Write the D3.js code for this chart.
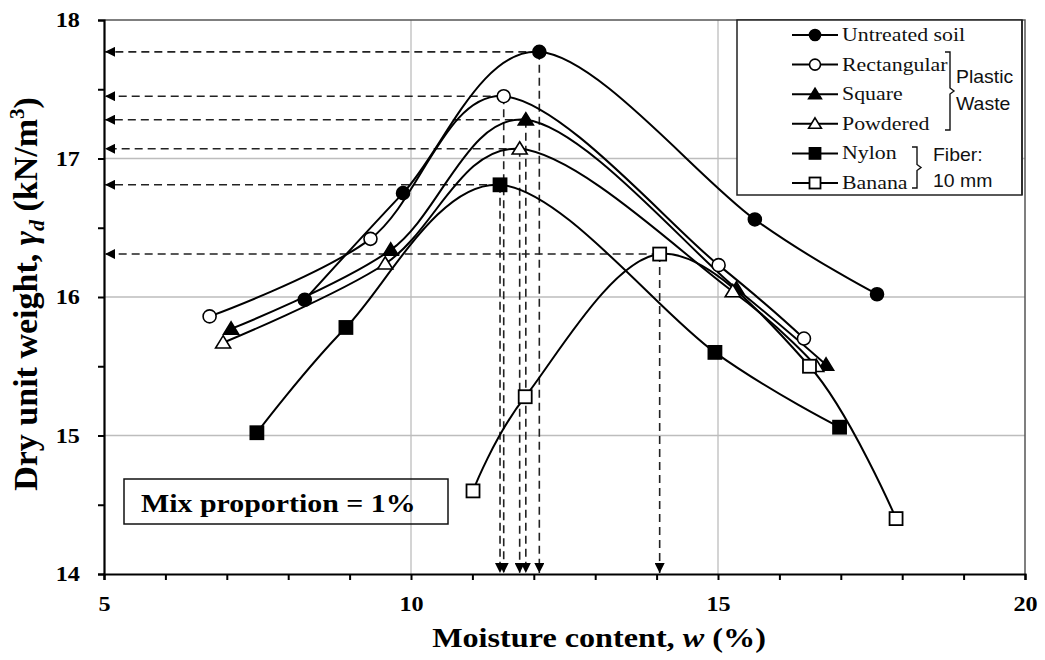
<!DOCTYPE html>
<html>
<head>
<meta charset="utf-8">
<script src="https://cdn.jsdelivr.net/npm/d3@7"></script>
<style>
  html, body { margin: 0; padding: 0; background: #fff; }
  svg { display: block; }
</style>
</head>
<body>
<svg id="chart" width="1045" height="660"></svg>
<script>
// Compaction curves: dry unit weight vs moisture content
const seriesNames = ["Untreated soil", "Rectangular", "Square", "Powdered", "Nylon", "Banana"];
const markerTypes = ["filledCircle", "openCircle", "filledTriangle", "openTriangle", "filledSquare", "openSquare"];

const untreatedW = [8.27, 9.87, 12.09, 15.60, 17.59];
const untreatedG = [15.98, 16.75, 17.77, 16.56, 16.02];
const rectangularW = [6.72, 9.34, 11.51, 15.01, 16.40];
const rectangularG = [15.86, 16.42, 17.45, 16.23, 15.70];
const squareW = [7.07, 9.67, 11.87, 15.30, 16.76];
const squareG = [15.77, 16.34, 17.28, 16.06, 15.51];
const powderedW = [6.94, 9.58, 11.77, 15.24, 16.60];
const powderedG = [15.67, 16.24, 17.07, 16.04, 15.50];
const nylonW = [7.49, 8.94, 11.45, 14.95, 16.98];
const nylonG = [15.02, 15.78, 16.81, 15.60, 15.06];
const bananaW = [11.01, 11.86, 14.05, 16.49, 17.90];
const bananaG = [14.60, 15.28, 16.31, 15.50, 14.40];

const xTicks = [5, 10, 15, 20];
const yTicks = [14, 15, 16, 17, 18];

const seriesW = [untreatedW, rectangularW, squareW, powderedW, nylonW, bananaW];
const seriesG = [untreatedG, rectangularG, squareG, powderedG, nylonG, bananaG];
const series = seriesNames.map((name, i) => ({
  name, marker: markerTypes[i],
  points: seriesW[i].map((w, j) => ({ w, g: seriesG[i][j] }))
}));

const svg = d3.select("#chart");
const x = d3.scaleLinear().domain([5, 20]).range([104, 1025]);
const y = d3.scaleLinear().domain([14, 18]).range([574, 20]);

const serif = "'Liberation Serif', 'Times New Roman', serif";
const sans = "'Liberation Sans', Arial, sans-serif";
const WIDEN = 1.15; // horizontal stretch applied to upright text

// helper: upright text placed at (px, py), widened horizontally
function wideText(parent, px, py, anchor) {
  return parent.append("g").attr("transform", `translate(${px},${py}) scale(${WIDEN},1)`)
    .append("text").attr("text-anchor", anchor || "start");
}

// gridlines
const grid = svg.append("g");
grid.selectAll("line.gx").data([10, 15]).enter().append("line")
  .attr("x1", d => x(d)).attr("x2", d => x(d)).attr("y1", y(14)).attr("y2", y(18))
  .attr("stroke", "#bdbdbd").attr("stroke-width", 1.3);
grid.selectAll("line.gy").data([15, 16, 17]).enter().append("line")
  .attr("x1", x(5)).attr("x2", x(20)).attr("y1", d => y(d)).attr("y2", d => y(d))
  .attr("stroke", "#bdbdbd").attr("stroke-width", 1.3);

// plot frame (top and right)
svg.append("path")
  .attr("d", `M${x(5)},${y(18)}H${x(20)}V${y(14)}`)
  .attr("fill", "none").attr("stroke", "#555").attr("stroke-width", 1.5);

// axes
const xAxis = d3.axisBottom(x).tickValues(d3.range(5, 20.01, 1)).tickSize(6)
  .tickFormat(d => xTicks.includes(d) ? d : "");
const gx = svg.append("g").attr("transform", `translate(0,${y(14)})`).call(xAxis);
gx.select(".domain").attr("stroke", "#000").attr("stroke-width", 2.2);
gx.selectAll(".tick line").attr("stroke", "#000").attr("stroke-width", 2);
gx.selectAll(".tick text").attr("font-family", serif).attr("font-weight", "bold")
  .attr("font-size", 21).attr("fill", "#000").attr("y", 37).attr("dy", 0)
  .attr("transform", `scale(${WIDEN},1)`);

const yAxis = d3.axisLeft(y).tickValues(d3.range(14, 18.01, 0.5)).tickSize(6)
  .tickFormat(d => yTicks.includes(d) ? d : "");
const gy = svg.append("g").attr("transform", `translate(${x(5)},0)`).call(yAxis);
gy.select(".domain").attr("stroke", "#000").attr("stroke-width", 2.2);
gy.selectAll(".tick line").attr("stroke", "#000").attr("stroke-width", 2);
gy.selectAll(".tick text").attr("font-family", serif).attr("font-weight", "bold")
  .attr("font-size", 21).attr("fill", "#000").attr("x", -21)
  .attr("transform", `scale(${WIDEN},1)`);

// axis titles
const xt = wideText(svg, 599, 647, "middle")
  .attr("font-family", serif).attr("font-weight", "bold").attr("font-size", 28);
xt.append("tspan").text("Moisture content, ");
xt.append("tspan").attr("font-style", "italic").text("w");
xt.append("tspan").text(" (%)");

const yt = svg.append("text").attr("transform", "translate(37,294) rotate(-90)")
  .attr("text-anchor", "middle").attr("font-family", serif).attr("font-weight", "bold").attr("font-size", 34);
yt.append("tspan").text("Dry unit weight, ");
yt.append("tspan").attr("font-style", "italic").text("γ");
yt.append("tspan").attr("font-style", "italic").attr("font-size", 22).attr("dy", 7).text("d");
yt.append("tspan").attr("dy", -7).text(" (kN/m");
yt.append("tspan").attr("font-size", 21).attr("dy", -13).text("3");
yt.append("tspan").attr("dy", 13).text(")");

// dashed guide arrows from each maximum to both axes
const defs = svg.append("defs");
defs.append("marker").attr("id", "arrow").attr("viewBox", "0 0 10 10")
  .attr("refX", 10).attr("refY", 5).attr("markerWidth", 12).attr("markerHeight", 10)
  .attr("markerUnits", "userSpaceOnUse").attr("orient", "auto")
  .append("path").attr("d", "M0,0L10,5L0,10Z").attr("fill", "#000");

const guides = svg.append("g");
series.forEach(s => {
  const peak = s.points.reduce((a, b) => (b.g > a.g ? b : a));
  guides.append("line")
    .attr("x1", x(peak.w)).attr("y1", y(peak.g)).attr("x2", x(5) + 1).attr("y2", y(peak.g))
    .attr("stroke", "#222").attr("stroke-width", 1.6).attr("stroke-dasharray", "8,5")
    .attr("marker-end", "url(#arrow)");
  guides.append("line")
    .attr("x1", x(peak.w)).attr("y1", y(peak.g)).attr("x2", x(peak.w)).attr("y2", y(14) - 1)
    .attr("stroke", "#222").attr("stroke-width", 1.6).attr("stroke-dasharray", "8,5")
    .attr("marker-end", "url(#arrow)");
});

// curves
const line = d3.line().x(d => x(d.w)).y(d => y(d.g)).curve(d3.curveCatmullRom.alpha(0));
svg.append("g").selectAll("path").data(series).enter().append("path")
  .attr("d", d => line(d.points)).attr("fill", "none")
  .attr("stroke", "#000").attr("stroke-width", 2);

// markers
function drawMarker(g, type, cx, cy, s) {
  const filled = type.startsWith("filled");
  const fill = filled ? "#000" : "#fff";
  if (type.endsWith("Circle")) {
    g.append("circle").attr("cx", cx).attr("cy", cy).attr("r", s * 0.5)
      .attr("fill", fill).attr("stroke", "#000").attr("stroke-width", 1.6);
  } else if (type.endsWith("Square")) {
    g.append("rect").attr("x", cx - s / 2).attr("y", cy - s / 2).attr("width", s).attr("height", s)
      .attr("fill", fill).attr("stroke", "#000").attr("stroke-width", 1.8);
  } else {
    const h = s * 0.9;
    g.append("path")
      .attr("d", `M${cx},${cy - h * 0.6}L${cx + s * 0.58},${cy + h * 0.45}L${cx - s * 0.58},${cy + h * 0.45}Z`)
      .attr("fill", fill).attr("stroke", "#000").attr("stroke-width", 1.6);
  }
}
const mk = svg.append("g");
series.forEach(s => s.points.forEach(p => drawMarker(mk, s.marker, x(p.w), y(p.g), 13)));

// legend
const lg = svg.append("g");
lg.append("rect").attr("x", 737).attr("y", 20).attr("width", 285).attr("height", 175)
  .attr("fill", "#fff").attr("stroke", "#222").attr("stroke-width", 1.5);
lg.append("line").attr("x1", 1022).attr("x2", 1022).attr("y1", 20).attr("y2", 195)
  .attr("stroke", "#222").attr("stroke-width", 1.5);
series.forEach((s, i) => {
  const ry = 35 + i * 29.6;
  lg.append("line").attr("x1", 792).attr("x2", 838).attr("y1", ry).attr("y2", ry)
    .attr("stroke", "#000").attr("stroke-width", 2);
  drawMarker(lg, s.marker, 815, ry, 11);
  wideText(lg, 842, ry + 6).attr("font-family", serif)
    .attr("font-size", 19).attr("fill", "#111").text(s.name);
});
// group brackets
function bracket(xb, y0, y1) {
  const ym = (y0 + y1) / 2;
  lg.append("path")
    .attr("d", `M${xb - 5},${y0}H${xb}V${ym - 3}L${xb + 4},${ym}L${xb},${ym + 3}V${y1}H${xb - 5}`)
    .attr("fill", "none").attr("stroke", "#111").attr("stroke-width", 1.4);
}
bracket(950, 52, 130);
bracket(917, 147, 188);
[["Plastic", 956, 83], ["Waste", 956, 110], ["Fiber:", 933, 161], ["10 mm", 933, 187]].forEach(([t, tx, ty]) => {
  lg.append("g").attr("transform", `translate(${tx},${ty}) scale(1.08,1)`)
    .append("text").attr("font-family", sans).attr("font-size", 18).attr("fill", "#111").text(t);
});

// mix proportion note
svg.append("rect").attr("x", 124).attr("y", 479).attr("width", 324).attr("height", 45)
  .attr("fill", "none").attr("stroke", "#111").attr("stroke-width", 1.5);
wideText(svg, 141, 512).attr("font-family", serif).attr("font-weight", "bold")
  .attr("font-size", 26).text("Mix proportion = 1%");
</script>
</body>
</html>
